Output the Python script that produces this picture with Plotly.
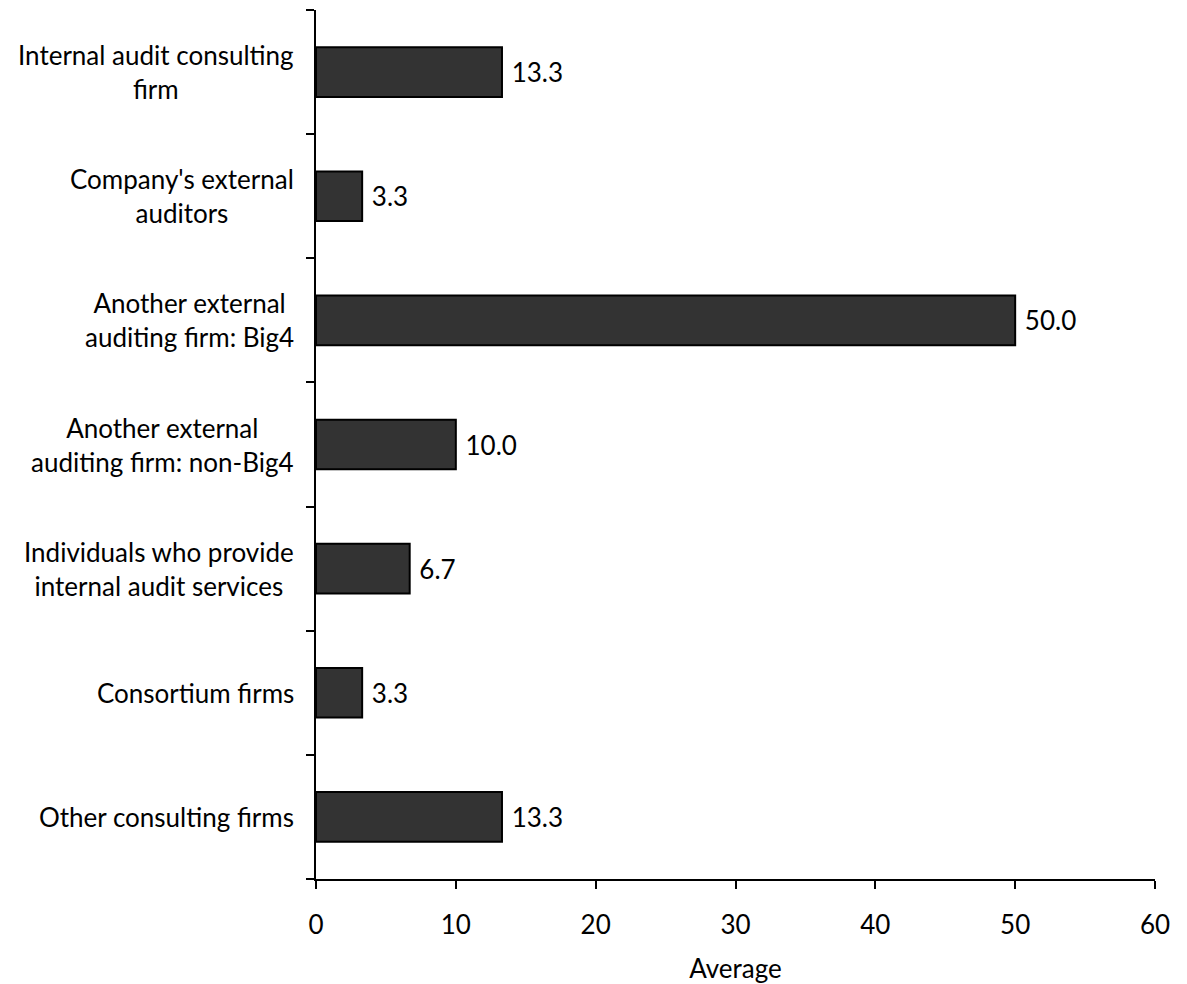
import plotly.graph_objects as go

categories = [
    "Internal audit consulting<br>firm",
    "Company's external<br>auditors",
    "Another external<br>auditing firm: Big4",
    "Another external<br>auditing firm: non-Big4",
    "Individuals who provide<br>internal audit services",
    "Consortium firms",
    "Other consulting firms",
]
values = [13.3, 3.3, 50.0, 10.0, 6.7, 3.3, 13.3]
x_ticks = [0, 10, 20, 30, 40, 50, 60]

FONT = "Lato"
FS = 26

fig = go.Figure()
fig.add_trace(go.Bar(
    y=categories,
    x=values,
    orientation="h",
    marker=dict(color="#333333", line=dict(color="#000000", width=2)),
    text=["\u00a0" + f"{v:.1f}" for v in values],
    textposition="outside",
    textfont=dict(family=FONT, size=FS, color="#000000"),
    cliponaxis=False,
    width=0.4,
))

for c in categories:
    fig.add_annotation(
        x=0, xref="paper", y=c, yref="y",
        text=c, showarrow=False, xanchor="right", align="center",
        xshift=-20,
        font=dict(family=FONT, size=FS, color="#000000"),
    )

fig.update_layout(
    width=1179, height=976,
    margin=dict(l=308, r=32, t=2, b=99),
    plot_bgcolor="white", paper_bgcolor="white",
    showlegend=False,
    font=dict(family=FONT, size=FS, color="#000000"),
    xaxis=dict(
        range=[0, 60], tickvals=x_ticks, ticktext=[str(t) for t in x_ticks],
        showgrid=False, zeroline=False,
        showline=True, linecolor="black", linewidth=2,
        ticks="outside", ticklen=8, tickwidth=2, tickcolor="black",
        ticklabelstandoff=14,
        title=dict(text="Average", font=dict(family=FONT, size=FS), standoff=24),
        tickfont=dict(family=FONT, size=FS),
    ),
    yaxis=dict(
        categoryorder="array", categoryarray=categories[::-1],
        showgrid=False, zeroline=False,
        showline=True, linecolor="black", linewidth=2,
        ticks="outside", ticklen=8, tickwidth=2, tickcolor="black",
        tickson="boundaries", showticklabels=False,
    ),
)

fig.write_html("out.html")
